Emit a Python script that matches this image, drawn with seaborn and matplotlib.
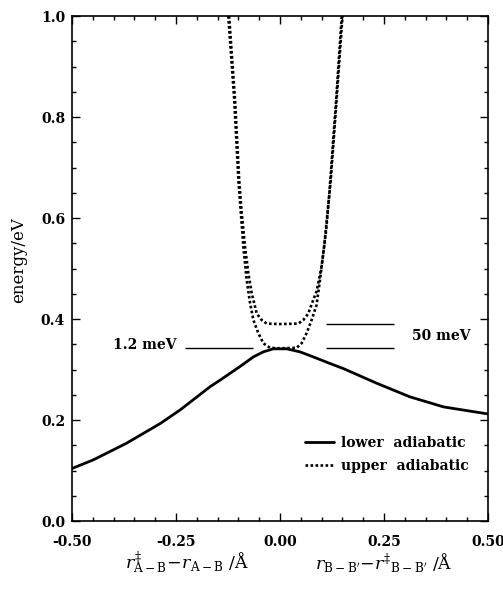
import matplotlib
matplotlib.use("Agg")
import matplotlib.pyplot as plt
import seaborn as sns
from matplotlib.ticker import MultipleLocator, FormatStrFormatter

# ---- data ----
lower_x = [-0.50, -0.449, -0.369, -0.288, -0.240, -0.168, -0.144, -0.096, -0.064,
           -0.040, -0.016, 0.016, 0.048, 0.080, 0.120, 0.152, 0.232, 0.312,
           0.393, 0.50]
lower_E = [0.104, 0.121, 0.154, 0.193, 0.220, 0.266, 0.279, 0.306, 0.325,
           0.335, 0.341, 0.341, 0.335, 0.325, 0.312, 0.302, 0.273, 0.246,
           0.226, 0.212]

# upper adiabatic, branch with minimum at ~0.39 eV
up1_x = [-0.124, -0.108, -0.098, -0.092, -0.084, -0.076, -0.068, -0.064, -0.056,
         -0.044, -0.032, 0.0, 0.044, 0.056, 0.068, 0.080, 0.088, 0.100, 0.111,
         0.118, 0.135, 0.150]
up1_E = [1.02, 0.834, 0.675, 0.609, 0.543, 0.490, 0.451, 0.438, 0.411,
         0.398, 0.391, 0.390, 0.391, 0.398, 0.411, 0.438, 0.455, 0.504, 0.576,
         0.642, 0.834, 1.02]

# upper adiabatic, branch with minimum at ~0.342 eV
up2_x = [-0.126, -0.110, -0.100, -0.094, -0.088, -0.080, -0.072, -0.064, -0.052,
         -0.040, -0.024, 0.0, 0.040, 0.052, 0.064, 0.076, 0.088, 0.096, 0.106,
         0.114, 0.122, 0.136, 0.152]
up2_E = [1.02, 0.834, 0.675, 0.609, 0.543, 0.477, 0.432, 0.398, 0.372,
         0.352, 0.343, 0.342, 0.343, 0.352, 0.372, 0.398, 0.428, 0.477, 0.543,
         0.609, 0.675, 0.834, 1.02]

# reference levels (annotation lines)
left_level = [0.342]
left_span = (-0.228, -0.065)
right_levels = [0.391, 0.342]
right_span = (0.110, 0.273)

x_ticks = [-0.50, -0.25, 0.00, 0.25, 0.50]
y_ticks = [0.0, 0.2, 0.4, 0.6, 0.8, 1.0]

# ---- style ----
sns.set_theme(style="ticks")
plt.rcParams['font.family'] = ['DejaVu Serif']
plt.rcParams['mathtext.fontset'] = 'dejavuserif'
plt.rcParams['axes.unicode_minus'] = False
for key in ['text.color', 'axes.labelcolor', 'xtick.color', 'ytick.color',
            'axes.edgecolor']:
    plt.rcParams[key] = 'black'

fig = plt.figure(figsize=(5.03, 5.92), dpi=100)
ax = fig.add_axes([0.1431, 0.1199, 0.8271, 0.8530])

dot = (0, (1.0, 0.9))
sns.lineplot(x=lower_x, y=lower_E, ax=ax, color='black', lw=2.0,
             estimator=None, sort=False, label='lower  adiabatic')
sns.lineplot(x=up1_x, y=up1_E, ax=ax, color='black', lw=1.9,
             estimator=None, sort=False, linestyle=dot, label='upper  adiabatic')
sns.lineplot(x=up2_x, y=up2_E, ax=ax, color='black', lw=1.9,
             estimator=None, sort=False, linestyle=dot)

ax.hlines(left_level, *left_span, color='black', lw=1.0)
ax.hlines(right_levels, *right_span, color='black', lw=1.0)

ax.text(-0.248, 0.348, '1.2 meV', ha='right', va='center',
        fontsize=10, fontweight='bold', color='black')
ax.text(0.318, 0.366, '50 meV', ha='left', va='center',
        fontsize=10, fontweight='bold', color='black')

ax.set_xlim(-0.5, 0.5)
ax.set_ylim(0.0, 1.0)
ax.set_xticks(x_ticks)
ax.set_yticks(y_ticks)
ax.xaxis.set_major_formatter(FormatStrFormatter('%.2f'))
ax.yaxis.set_major_formatter(FormatStrFormatter('%.1f'))
ax.xaxis.set_minor_locator(MultipleLocator(0.05))
ax.yaxis.set_minor_locator(MultipleLocator(0.05))
ax.tick_params(which='both', direction='in', top=True, right=True,
               color='black', width=1.0)
ax.tick_params(which='major', length=6)
ax.tick_params(which='minor', length=3)
ax.tick_params(axis='x', which='major', pad=10)
ax.tick_params(axis='y', which='major', pad=5)
for lab in ax.get_xticklabels() + ax.get_yticklabels():
    lab.set_fontweight('bold')
    lab.set_fontsize(10)
    lab.set_color('black')
for sp in ax.spines.values():
    sp.set_linewidth(1.2)
    sp.set_color('black')

ax.set_xlabel('')
ax.set_ylabel('energy/eV', fontsize=12, color='black')
ax.yaxis.set_label_coords(-0.108, 0.517)

fig.text(0.372, 0.038, r'$r^{\ddagger}_{\rm A-B}\!-\!r_{\rm A-B}$ /Å',
         ha='center', va='baseline', fontsize=12.5, color='black')
fig.text(0.762, 0.038, r"$r_{\rm B-B'}\!-\!r^{\ddagger}{}_{\rm B-B'}$ /Å",
         ha='center', va='baseline', fontsize=12.5, color='black')

leg = ax.legend(frameon=False, loc='upper left', bbox_to_anchor=(0.56, 0.168),
                borderpad=0, borderaxespad=0, handlelength=2.1,
                handletextpad=0.5, labelspacing=0.65,
                prop={'family': 'DejaVu Serif', 'weight': 'bold', 'size': 10})
for t in leg.get_texts():
    t.set_color('black')

fig.savefig('out.png', dpi=100, facecolor='white')
